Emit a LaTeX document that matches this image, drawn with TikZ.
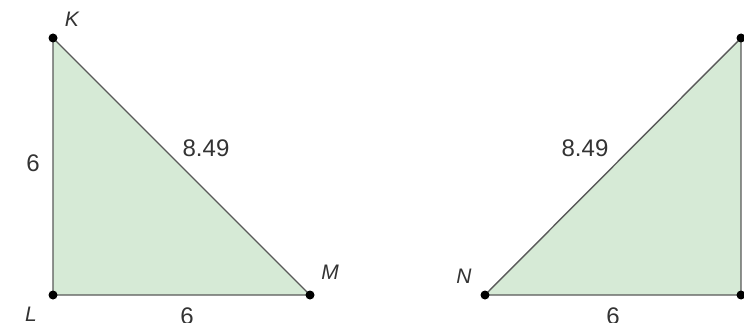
\documentclass[tikz,border=0pt]{standalone}
\usepackage{fontspec}
\setmainfont{Liberation Sans}
\begin{document}
\begin{tikzpicture}[x=1pt,y=1pt,
  tri/.style={draw=black!65,line width=1.4pt,fill={rgb,255:red,214;green,234;blue,214}},
  dot/.style={circle,fill=black,inner sep=0pt,minimum size=9pt},
  num/.style={font=\fontsize{24}{24}\selectfont,text=black!80},
  vlab/.style={font=\fontsize{21}{21}\selectfont\itshape,text=black!80}]
\useasboundingbox (0,0) rectangle (744,322);
\coordinate (K) at (53,284);
\coordinate (L) at (53,27);
\coordinate (M) at (310,27);
\coordinate (N) at (485,27);
\coordinate (T) at (741,284);
\coordinate (R) at (741,27);
\draw[tri] (K) -- (L) -- (M) -- cycle;
\draw[tri] (N) -- (R) -- (T) -- cycle;
\foreach \p in {K,L,M,N,T,R} \node[dot] at (\p) {};
\node[vlab] (lk) at (72,303) {K};
\node[vlab] (ll) at (31,8) {L};
\node[vlab] (lm) at (330,50) {M};
\node[vlab] (ln) at (464,46) {N};
\node[num] (a) at (33,159) {6};
\node[num] (b) at (206,174) {8.49};
\node[num] (c) at (187,6) {6};
\node[num] (d) at (585,174) {8.49};
\node[num] (e) at (613,6) {6};
\end{tikzpicture}
\end{document}
